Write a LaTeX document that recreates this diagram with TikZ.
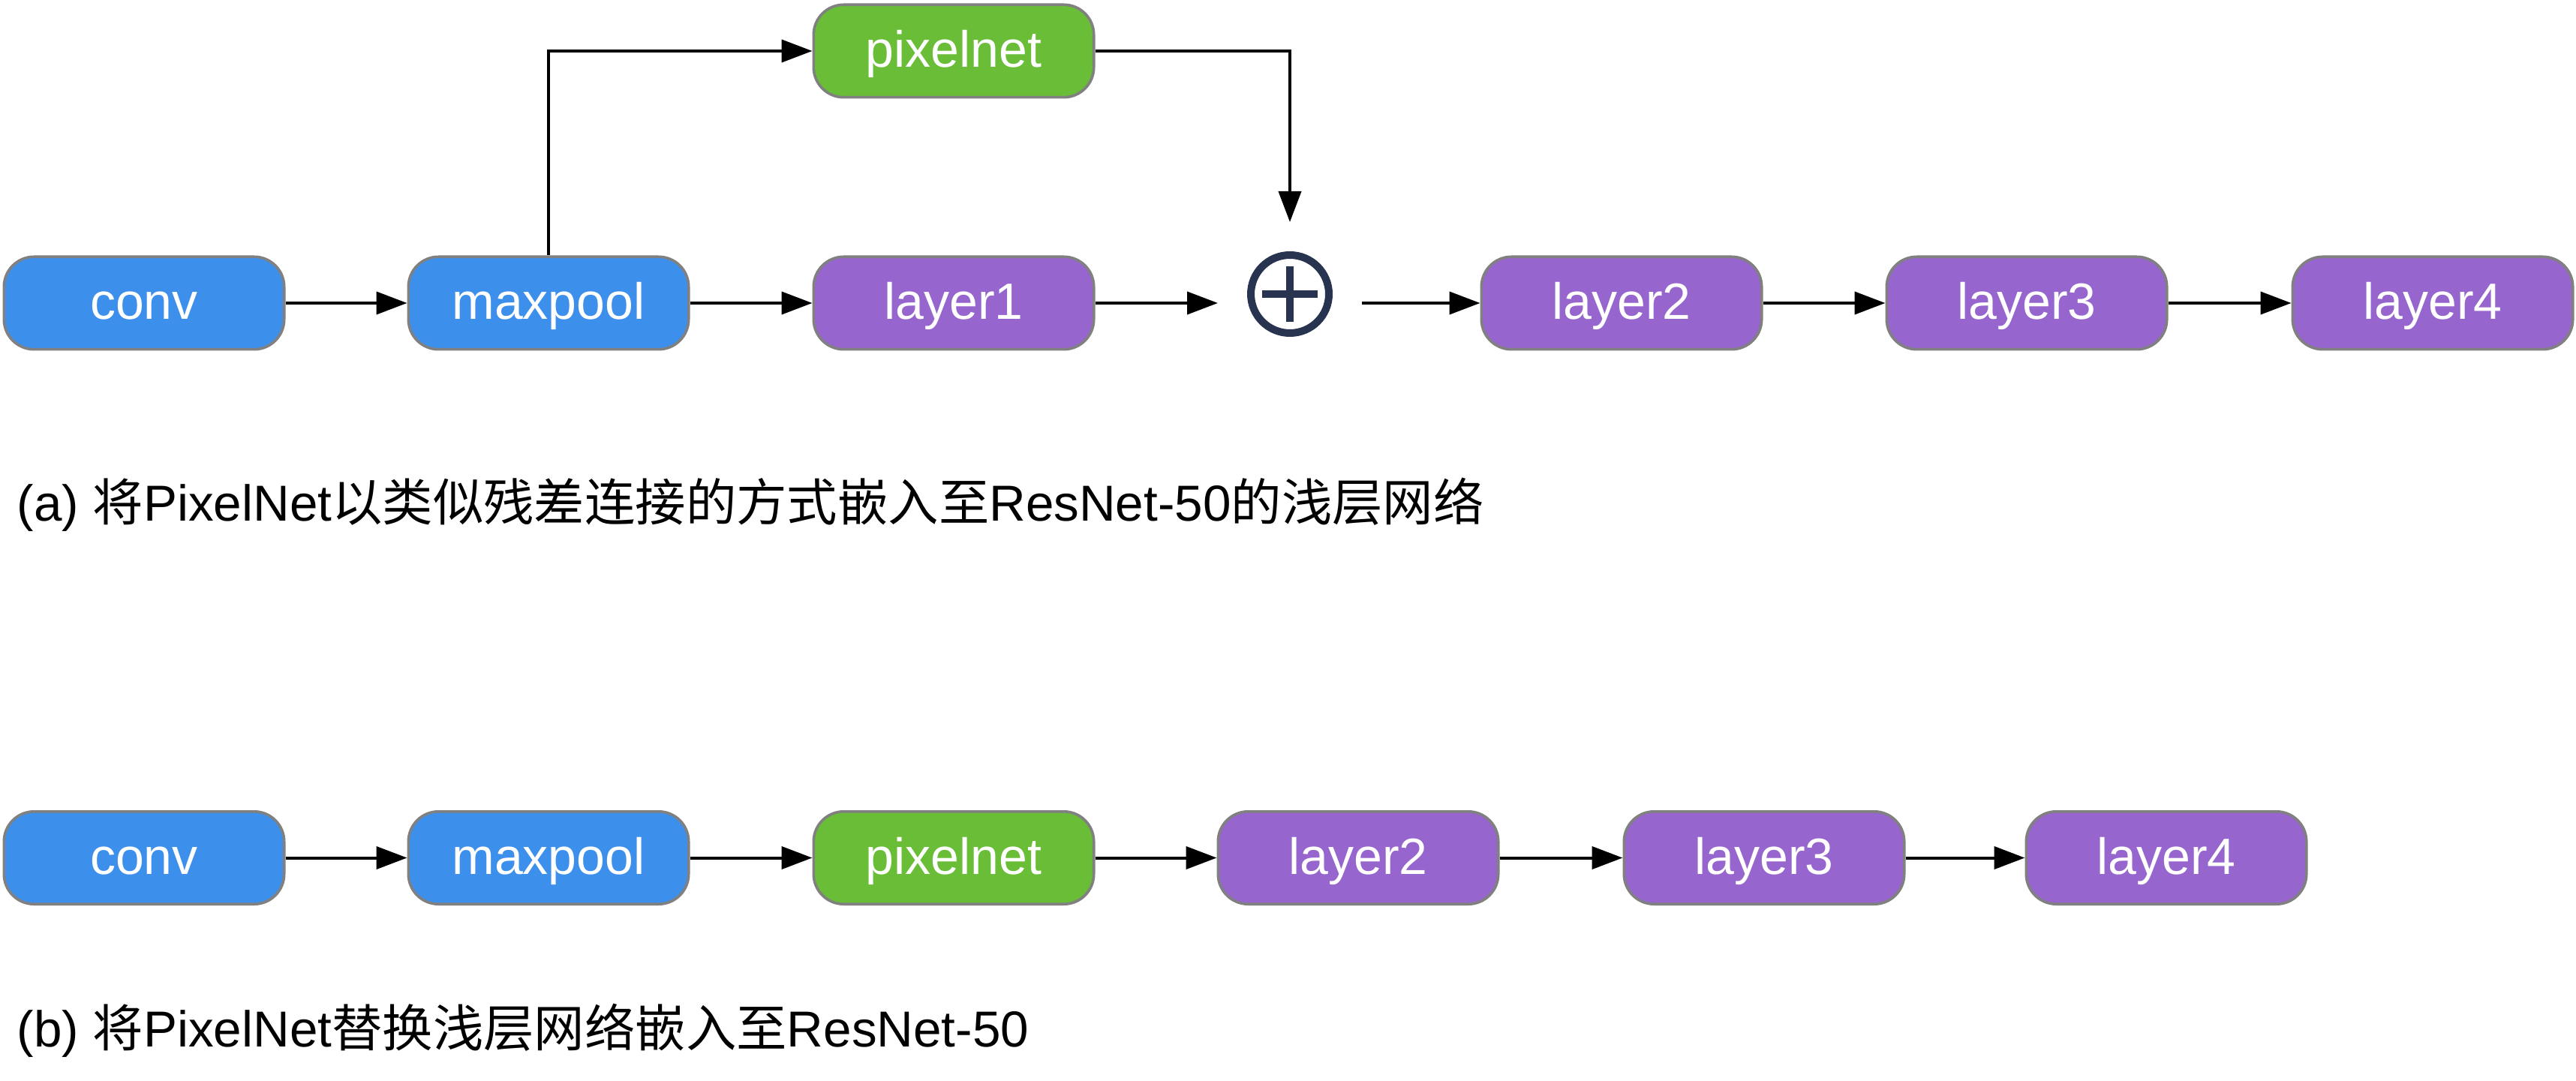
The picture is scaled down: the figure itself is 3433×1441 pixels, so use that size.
\documentclass[tikz,border=0pt]{standalone}
\usepackage{fontspec}
\setmainfont{Liberation Sans}
\newfontfamily\cjk{Noto Sans CJK SC}
\usetikzlibrary{arrows.meta}
\definecolor{bblue}{HTML}{3D8FEC}
\definecolor{bgreen}{HTML}{69BD37}
\definecolor{bpurple}{HTML}{9665CD}
\definecolor{bordergray}{HTML}{808080}
\definecolor{navy}{HTML}{283350}
\begin{document}
\begin{tikzpicture}[x=0.25pt,y=-0.25pt,
  blk/.style={draw=bordergray, line width=0.9pt, rounded corners=10pt,
    minimum width=93.35pt, minimum height=30.85pt, inner sep=0pt,
    text=white, font=\fontsize{17}{20}\selectfont, text height=12pt, text depth=1pt},
  bluebox/.style={blk, fill=bblue},
  greenbox/.style={blk, fill=bgreen},
  purplebox/.style={blk, fill=bpurple},
  sumnode/.style={circle, draw=navy, line width=2.5pt, minimum size=26pt, inner sep=0pt, outer sep=11pt},
  plusbar/.style={draw=navy, line width=2.5pt},
  conn/.style={line width=1pt, -{Triangle[length=10.25pt,width=7.5pt]}},
  captext/.style={anchor=base west, inner sep=0pt, font=\fontsize{16.85}{20}\selectfont}]
\useasboundingbox (0,0) rectangle (3433,1441);

% (a)
\node[bluebox] (c1) at (192,404) {conv};
\node[bluebox] (m1) at (731,404) {maxpool};
\node[purplebox] (l1) at (1271,404) {layer1};
\node[greenbox] (p1) at (1271,68) {pixelnet};
\node[sumnode] (sum) at (1719,392) {};
\draw[plusbar] ([yshift=9.2pt]sum.center) -- ([yshift=-9.2pt]sum.center);
\draw[plusbar] ([xshift=-9.2pt]sum.center) -- ([xshift=9.2pt]sum.center);
\node[purplebox] (l2) at (2161,404) {layer2};
\node[purplebox] (l3) at (2701,404) {layer3};
\node[purplebox] (l4) at (3242,404) {layer4};

\draw[conn] (c1.east) -- (m1.west);
\draw[conn] (m1.east) -- (l1.west);
\draw[conn] (m1.north) |- (p1.west);
\draw[conn] (p1.east) -| (sum.north);
\draw[conn] (l1.east) -- (l1.east -| sum.west);
\draw[conn] (sum.east |- l2.west) -- (l2.west);
\draw[conn] (l2.east) -- (l3.west);
\draw[conn] (l3.east) -- (l4.west);

\node[captext] (capa) at (22,695) {(a) {\cjk 将}PixelNet{\cjk 以类似残差连接的方式嵌入至}ResNet-50{\cjk 的浅层网络}};

% (b)
\node[bluebox] (c2) at (192,1143.5) {conv};
\node[bluebox] (m2) at (731,1143.5) {maxpool};
\node[greenbox] (p2) at (1271,1143.5) {pixelnet};
\node[purplebox] (q2) at (1810,1143.5) {layer2};
\node[purplebox] (q3) at (2351,1143.5) {layer3};
\node[purplebox] (q4) at (2887,1143.5) {layer4};

\draw[conn] (c2.east) -- (m2.west);
\draw[conn] (m2.east) -- (p2.west);
\draw[conn] (p2.east) -- (q2.west);
\draw[conn] (q2.east) -- (q3.west);
\draw[conn] (q3.east) -- (q4.west);

\node[captext] (capb) at (22,1395) {(b) {\cjk 将}PixelNet{\cjk 替换浅层网络嵌入至}ResNet-50};
\end{tikzpicture}
\end{document}
